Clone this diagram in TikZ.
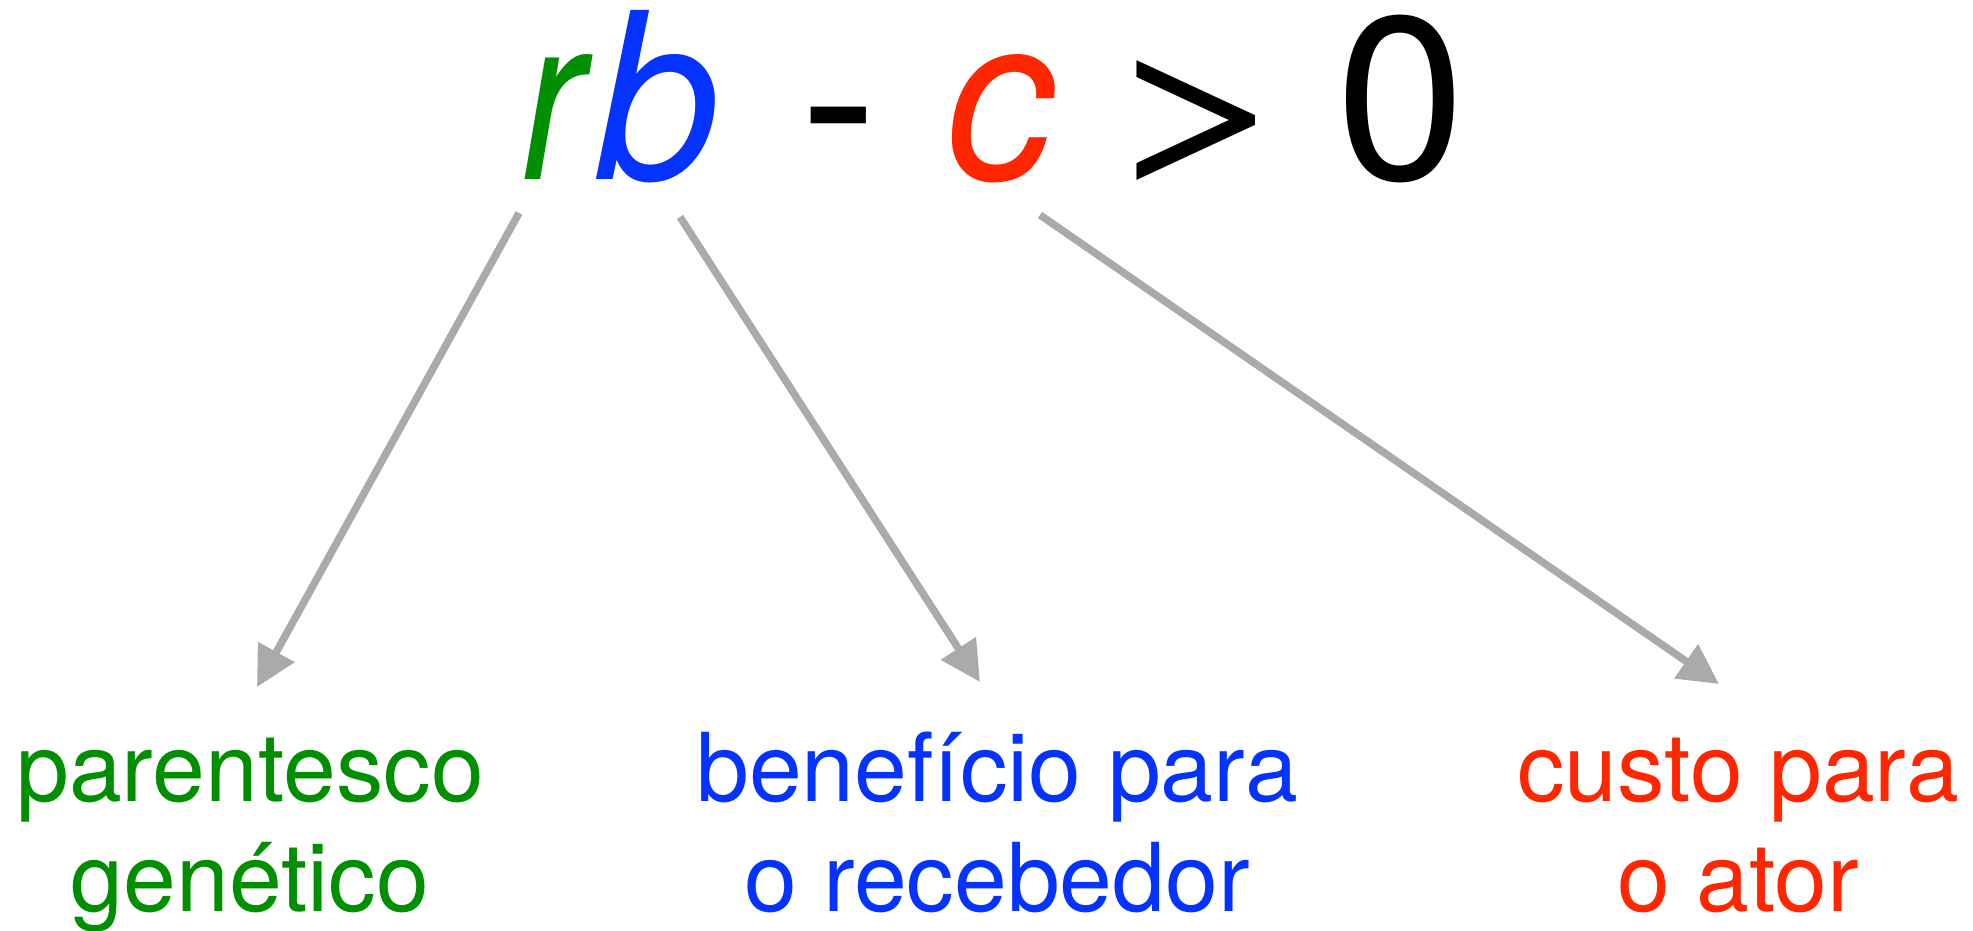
\documentclass[tikz,border=0pt]{standalone}
\usepackage{graphicx}
\usepackage{fontspec}
\setmainfont{TeX Gyre Heros}
\usetikzlibrary{arrows.meta}
\definecolor{cgreen}{RGB}{0,143,0}
\definecolor{cblue}{RGB}{4,51,255}
\definecolor{cred}{RGB}{255,38,0}
\definecolor{arrowgray}{RGB}{170,170,170}
\tikzset{
  formula/.style={inner sep=0pt, outer sep=0pt, anchor=base, font=\fontsize{232}{232}\selectfont},
  label/.style={inner sep=0pt, outer sep=0pt, anchor=base, align=center, font=\fontsize{95}{110}\selectfont},
  conn/.style={draw=arrowgray, line width=7.5pt, -{Triangle[length=40pt,width=40pt]}}
}
\begin{document}
\begin{tikzpicture}[x=1pt,y=1pt]
\useasboundingbox (0,0) rectangle (1973,931);
% formula
\node[formula, anchor=base west, text=cgreen] (r) at (521,751) {\itshape\scalebox{0.8}[1]{r}};
\node[formula, anchor=base west, text=cblue] (b) at (595,751) {\itshape\scalebox{0.96}[1]{b}};
\node[formula] (minus) at (839,751) {-};
\node[formula, text=cred] (c) at (1000,751) {\itshape\scalebox{0.93}[1]{c}};
\node[formula] (gt) at (1200,763) {\scalebox{1.53}[0.81]{>}};
\node[formula] (zero) at (1401,751) {0};
% labels (base = baseline of the last line)
\node[label, text=cgreen] (l1) at (250,19) {parentesco\\genético};
\node[label, text=cblue] (l2) at (997,19) {benefício para\\o recebedor};
\node[label, text=cred] (l3) at (1738,19) {custo para\\o ator};
% arrow ends
\coordinate (s1) at (519,718);
\coordinate (t1) at (257,244);
\coordinate (s2) at (680,714);
\coordinate (t2) at (980,249);
\coordinate (s3) at (1040,716);
\coordinate (t3) at (1719,247);
\draw[conn] (s1) -- (t1);
\draw[conn] (s2) -- (t2);
\draw[conn] (s3) -- (t3);
\end{tikzpicture}
\end{document}
